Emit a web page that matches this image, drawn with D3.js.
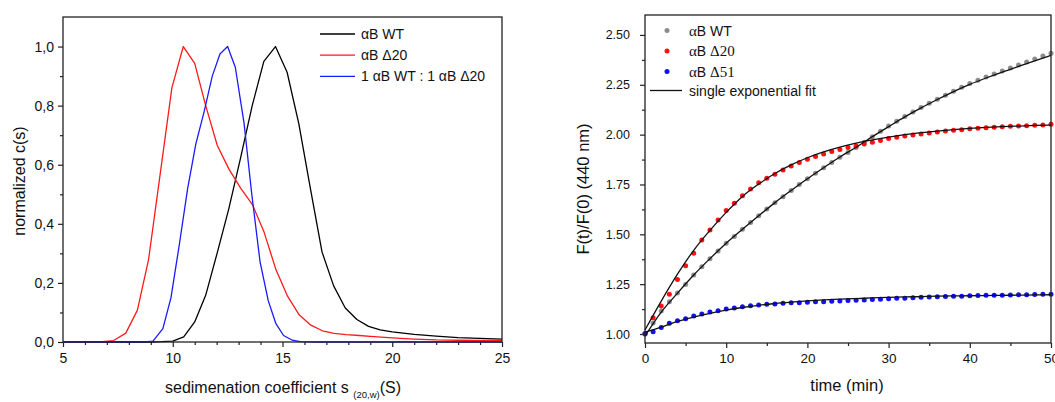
<meta charset="UTF-8">
<script src="https://d3js.org/d3.v7.min.js"></script>
<style>
  body { margin: 0; background: #fff; }
  svg text { font-family: "Liberation Sans", Arial, sans-serif; fill: #111; }
</style>
<div id="my_dataviz"></div>
<script>

// ---- left panel: sedimentation coefficient distributions ----
var wtS   = [5, 9, 9.5, 10, 10.5, 11, 11.5, 12.02, 12.55, 13.08, 13.62, 14.15, 14.68, 15.21, 15.74, 16.27, 16.8, 17.33, 17.86, 18.39, 18.92, 19.45, 20, 21, 22, 23, 24, 25];
var wtC   = [0, 0, 0.001, 0.003, 0.017, 0.068, 0.158, 0.3, 0.45, 0.62, 0.8, 0.95, 1.0, 0.913, 0.74, 0.52, 0.305, 0.19, 0.115, 0.076, 0.053, 0.041, 0.034, 0.026, 0.02, 0.015, 0.012, 0.01];
var d20S  = [5, 6, 6.8, 7.31, 7.86, 8.39, 8.9, 9.43, 9.96, 10.48, 11.0, 11.5, 12.03, 12.56, 13.1, 13.63, 14.16, 14.7, 15.23, 15.76, 16.29, 16.82, 17.35, 17.9, 18.5, 19, 20, 21, 22, 23, 24, 25];
var d20C  = [0, 0, 0.001, 0.005, 0.03, 0.108, 0.28, 0.57, 0.86, 1.0, 0.943, 0.8, 0.665, 0.585, 0.52, 0.465, 0.372, 0.245, 0.155, 0.092, 0.057, 0.038, 0.029, 0.025, 0.022, 0.019, 0.014, 0.01, 0.007, 0.006, 0.005, 0.005];
var mixS  = [5, 8.7, 9.1, 9.55, 9.92, 10.3, 10.68, 11.05, 11.43, 11.8, 12.15, 12.5, 12.85, 13.25, 13.6, 13.98, 14.35, 14.7, 15.05, 15.45, 15.8, 16.5, 25];
var mixC  = [0, 0, 0.003, 0.045, 0.15, 0.33, 0.52, 0.67, 0.78, 0.9, 0.975, 1.0, 0.93, 0.74, 0.5, 0.27, 0.14, 0.062, 0.022, 0.006, 0.001, 0, 0];
var leftNames  = ["\u03B1B WT", "\u03B1B \u039420", "1 \u03B1B WT : 1 \u03B1B \u039420"];
var leftColors = ["#000000", "#ff1a1a", "#1a1aff"];
var leftXTicks = [5, 10, 15, 20, 25];
var leftXMinor = [6, 7, 8, 9, 11, 12, 13, 14, 16, 17, 18, 19, 21, 22, 23, 24];
var leftYTicks = [0, 0.2, 0.4, 0.6, 0.8, 1.0];
var leftYMinor = [0.1, 0.3, 0.5, 0.7, 0.9];

// ---- right panel: fluorescence kinetics ----
var time  = [0,1,2,3,4,5,6,7,8,9,10,11,12,13,14,15,16,17,18,19,20,21,22,23,24,25,26,27,28,29,30,31,32,33,34,35,36,37,38,39,40,41,42,43,44,45,46,47,48,49,50];
var fWT   = [1.0,1.055,1.115,1.162,1.206,1.249,1.296,1.338,1.377,1.416,1.455,1.489,1.525,1.559,1.593,1.627,1.659,1.689,1.72,1.75,1.779,1.806,1.834,1.86,1.886,1.91,1.936,1.962,1.99,2.017,2.043,2.067,2.091,2.114,2.136,2.157,2.178,2.198,2.218,2.238,2.256,2.273,2.289,2.304,2.319,2.334,2.349,2.364,2.379,2.394,2.408];
var fD20  = [1.0,1.082,1.14,1.2,1.274,1.343,1.405,1.472,1.522,1.572,1.619,1.656,1.694,1.727,1.759,1.781,1.801,1.823,1.843,1.86,1.876,1.89,1.903,1.916,1.925,1.936,1.943,1.953,1.962,1.97,1.98,1.987,1.993,1.998,2.003,2.008,2.013,2.018,2.022,2.025,2.03,2.032,2.035,2.037,2.04,2.042,2.043,2.045,2.047,2.048,2.052];
var fD51  = [1.003,1.012,1.033,1.054,1.067,1.077,1.09,1.1,1.11,1.117,1.125,1.13,1.137,1.142,1.145,1.149,1.151,1.154,1.157,1.157,1.159,1.162,1.162,1.164,1.166,1.168,1.169,1.171,1.173,1.174,1.177,1.179,1.18,1.182,1.184,1.186,1.187,1.188,1.189,1.19,1.192,1.193,1.194,1.195,1.195,1.196,1.197,1.197,1.198,1.199,1.2];
var fitTime = [0,2,4,6,8,10,12,14,16,18,20,22,24,26,28,30,32,34,36,38,40,42,44,46,48,50];
var fitWT   = [0.99,1.11,1.205,1.296,1.378,1.455,1.525,1.593,1.659,1.72,1.779,1.834,1.888,1.937,1.99,2.04,2.089,2.134,2.176,2.216,2.252,2.284,2.314,2.342,2.37,2.398];
var fitD20  = [1.02,1.165,1.3,1.42,1.52,1.61,1.69,1.752,1.805,1.848,1.884,1.913,1.937,1.957,1.974,1.988,2.0,2.01,2.018,2.025,2.031,2.036,2.04,2.043,2.046,2.048];
var fitD51  = [1.01,1.035,1.063,1.085,1.104,1.12,1.133,1.144,1.153,1.16,1.166,1.171,1.175,1.178,1.181,1.184,1.186,1.188,1.19,1.191,1.192,1.193,1.194,1.195,1.196,1.197];
var rightNames  = ["WT", "\u039420", "\u039451"];
var rightColors = ["#8c8c8c", "#ff1010", "#1010ff"];
var rightXTicks = [0, 10, 20, 30, 40, 50];
var rightXMinor = [5, 15, 25, 35, 45];
var rightYTicks = [1.0, 1.25, 1.5, 1.75, 2.0, 2.25, 2.5];
var rightYMinor = [1.125, 1.375, 1.625, 1.875, 2.125, 2.375];

var svg = d3.select("#my_dataviz")
  .append("svg")
    .attr("width", 1055)
    .attr("height", 402);

function zip(xs, ys) {
  return xs.map(function(x, i) { return {x: x, y: ys[i]}; });
}

// draws ticks for one axis (major with labels + minor without)
function drawAxis(g, axisFn, scale, major, minor, fmt, fontSize, pad) {
  g.append("g").call(axisFn(scale).tickValues(major).tickFormat(fmt).tickSize(5).tickSizeOuter(0).tickPadding(pad))
    .call(function(a) { a.select(".domain").remove(); })
    .call(function(a) { a.selectAll("line").attr("stroke", "#222").attr("stroke-width", 1.2); })
    .call(function(a) { a.selectAll("text").style("font-size", fontSize + "px").attr("fill", "#111"); });
  g.append("g").call(axisFn(scale).tickValues(minor).tickFormat("").tickSize(3).tickSizeOuter(0))
    .call(function(a) { a.select(".domain").remove(); })
    .call(function(a) { a.selectAll("line").attr("stroke", "#222").attr("stroke-width", 1.2); });
}

// ================= left chart =================
var L = {left: 63, top: 17, right: 502, bottom: 342};
var xL = d3.scaleLinear().domain([5, 25]).range([L.left, L.right]);
var yL = d3.scaleLinear().domain([0, 1.1]).range([L.bottom, L.top]);

var gxL = svg.append("g").attr("transform", "translate(0," + L.bottom + ")");
drawAxis(gxL, d3.axisBottom, xL, leftXTicks, leftXMinor, function(d) { return d; }, 14, 4);
gxL.selectAll("text").attr("dy", "0.85em");
var gyL = svg.append("g").attr("transform", "translate(" + L.left + ",0)");
drawAxis(gyL, d3.axisLeft, yL, leftYTicks, leftYMinor, function(d) { return d3.format(".1f")(d).replace(".", ","); }, 14, 4);

var leftSeries = [zip(wtS, wtC), zip(d20S, d20C), zip(mixS, mixC)];
var lineL = d3.line().x(function(d) { return xL(d.x); }).y(function(d) { return yL(d.y); });
svg.append("g")
  .selectAll("path")
  .data(leftSeries)
  .enter()
  .append("path")
    .attr("d", lineL)
    .attr("fill", "none")
    .attr("stroke", function(d, i) { return leftColors[i]; })
    .attr("stroke-width", 1.3)
    .attr("stroke-linejoin", "round");

svg.append("rect")
  .attr("x", L.left).attr("y", L.top)
  .attr("width", L.right - L.left).attr("height", L.bottom - L.top)
  .attr("fill", "none").attr("stroke", "#222").attr("stroke-width", 1.3);

// legend
var legL = svg.append("g")
  .selectAll("g")
  .data(leftNames)
  .enter()
  .append("g")
    .attr("transform", function(d, i) { return "translate(320," + (34 + i * 21.2) + ")"; });
legL.append("line").attr("x1", 0).attr("x2", 35)
  .attr("stroke", function(d, i) { return leftColors[i]; }).attr("stroke-width", 1.3);
legL.append("text").attr("x", 41).attr("y", 5).style("font-size", "14px").text(function(d) { return d; });

// axis titles
svg.append("text")
  .attr("transform", "translate(25,181) rotate(-90)")
  .attr("text-anchor", "middle")
  .style("font-size", "16px")
  .text("normalized c(s)");
var xt = svg.append("text")
  .attr("x", 283).attr("y", 393)
  .attr("text-anchor", "middle")
  .style("font-size", "16px");
xt.append("tspan").text("sedimenation coefficient s ");
xt.append("tspan").attr("dy", 5).style("font-size", "9.5px").text("(20,w)");
xt.append("tspan").attr("dy", -5).text("(S)");

// ================= right chart =================
var R = {left: 645, top: 15, right: 1051, bottom: 343};
var xR = d3.scaleLinear().domain([0, 50]).range([R.left, R.right]);
var yR = d3.scaleLinear().domain([0.955, 2.6]).range([R.bottom, R.top]);

var gxR = svg.append("g").attr("transform", "translate(0," + R.bottom + ")");
drawAxis(gxR, d3.axisBottom, xR, rightXTicks, rightXMinor, function(d) { return d; }, 13.5, 4);
gxR.selectAll("text").attr("dy", "0.85em");
var gyR = svg.append("g").attr("transform", "translate(" + R.left + ",0)");
drawAxis(gyR, d3.axisLeft, yR, rightYTicks, rightYMinor, d3.format(".2f"), 12.5, 10);

var lineR = d3.line().curve(d3.curveMonotoneX)
  .x(function(d) { return xR(d.x); }).y(function(d) { return yR(d.y); });

var pointSeries = [zip(time, fWT), zip(time, fD20), zip(time, fD51)];
pointSeries.forEach(function(ser, i) {
  svg.append("g")
    .selectAll("circle")
    .data(ser)
    .enter()
    .append("circle")
      .attr("cx", function(d) { return xR(d.x); })
      .attr("cy", function(d) { return yR(d.y); })
      .attr("r", 2.5)
      .attr("fill", rightColors[i]);
});

var fitSeries = [zip(fitTime, fitWT), zip(fitTime, fitD20), zip(fitTime, fitD51)];
svg.append("g")
  .selectAll("path")
  .data(fitSeries)
  .enter()
  .append("path")
    .attr("d", lineR)
    .attr("fill", "none")
    .attr("stroke", "#111")
    .attr("stroke-width", 1.3);

svg.append("rect")
  .attr("x", R.left).attr("y", R.top)
  .attr("width", R.right - R.left).attr("height", R.bottom - R.top)
  .attr("fill", "none").attr("stroke", "#222").attr("stroke-width", 1.3);

// legend
var legR = svg.append("g")
  .selectAll("g")
  .data(rightNames)
  .enter()
  .append("g")
    .attr("transform", function(d, i) { return "translate(667," + (30.5 + i * 20.5) + ")"; });
legR.append("circle").attr("r", 2.5).attr("fill", function(d, i) { return rightColors[i]; });
var legRText = legR.append("text").attr("x", 22).attr("y", 5).style("font-size", "14px");
legRText.append("tspan").style("font-family", "'Liberation Serif', 'Times New Roman', serif").style("font-size", "15px").text("\u03B1");
legRText.append("tspan").text("B ");
legRText.append("tspan")
  .style("font-family", function(d, i) { return i === 0 ? null : "'Liberation Serif', 'Times New Roman', serif"; })
  .style("font-size", function(d, i) { return i === 0 ? null : "15px"; })
  .text(function(d) { return d; });
svg.append("line")
  .attr("x1", 650).attr("x2", 682).attr("y1", 90.5).attr("y2", 90.5)
  .attr("stroke", "#111").attr("stroke-width", 1.3);
svg.append("text").attr("x", 689).attr("y", 95.5).style("font-size", "14px").text("single exponential fit");

// axis titles
svg.append("text")
  .attr("transform", "translate(589,189) rotate(-90)")
  .attr("text-anchor", "middle")
  .style("font-size", "16.5px")
  .text("F(t)/F(0) (440 nm)");
svg.append("text")
  .attr("x", 847).attr("y", 391)
  .attr("text-anchor", "middle")
  .style("font-size", "16.5px")
  .text("time (min)");

</script>
